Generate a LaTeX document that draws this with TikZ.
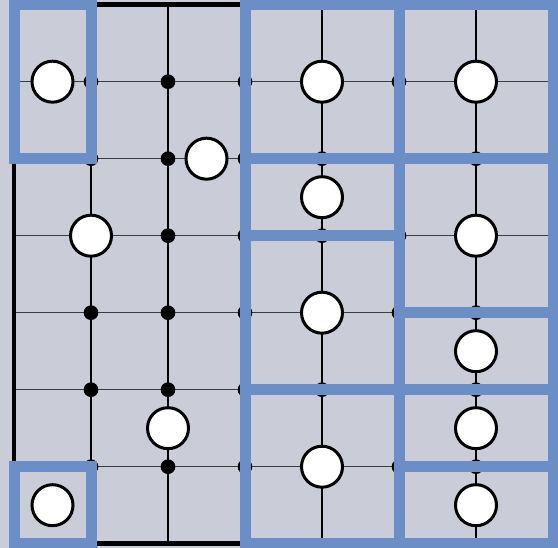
\documentclass[tikz,border=0pt]{standalone}
\definecolor{bg}{RGB}{202,205,216}
\definecolor{bluebox}{RGB}{108,142,198}
\definecolor{hline}{RGB}{60,60,64}
\begin{document}
\begin{tikzpicture}[x=77pt,y=77pt,
  vgridline/.style={black, line width=1.1pt},
  hgridline/.style={hline, line width=1.4pt},
  frame/.style={black, line width=4.7pt},
  dotnode/.style={circle, fill=black, inner sep=0pt, minimum size=14.7pt},
  stone/.style={circle, draw=black, fill=white, line width=3pt, inner sep=0pt, minimum size=41pt},
  region/.style={draw=bluebox, line width=11pt}]
\fill[bg] (-14pt,-4.3pt) rectangle (544pt,543.7pt);
\useasboundingbox (-14pt,-4.3pt) rectangle (544pt,543.7pt);
% grid
\foreach \k in {1,...,6} {
  \draw[hgridline] (0,\k) -- (7,\k);
}
\foreach \k in {1,...,6} {
  \draw[vgridline] (\k,0) -- (\k,7);
}
\draw[frame] (0,0) rectangle (7,7);
% dots
\foreach \i/\j in {1/6,2/6,3/6,5/6,
                   1/5,2/5,3/5,4/5,5/5,6/5,
                   2/4,3/4,4/4,5/4,
                   1/3,2/3,3/3,5/3,6/3,
                   1/2,2/2,3/2,4/2,5/2,6/2,
                   1/1,2/1,3/1,5/1,6/1}
  \node[dotnode] (d\i\j) at (\i,\j) {};
% stones
\node[stone] (c1)  at (0.5,6) {};
\node[stone] (c2)  at (4,6) {};
\node[stone] (c3)  at (6,6) {};
\node[stone] (c4)  at (2.5,5) {};
\node[stone] (c5)  at (4,4.5) {};
\node[stone] (c6)  at (1,4) {};
\node[stone] (c7)  at (6,4) {};
\node[stone] (c8)  at (4,3) {};
\node[stone] (c9)  at (6,2.5) {};
\node[stone] (c10) at (2,1.5) {};
\node[stone] (c11) at (6,1.5) {};
\node[stone] (c12) at (4,1) {};
\node[stone] (c13) at (0.5,0.5) {};
\node[stone] (c14) at (6,0.5) {};
% regions
\draw[region] (0,5) rectangle (1,7);
\draw[region] (0,0) rectangle (1,1);
\draw[region] (3,5) rectangle (5,7);
\draw[region] (3,4) rectangle (5,5);
\draw[region] (3,2) rectangle (5,4);
\draw[region] (3,0) rectangle (5,2);
\draw[region] (5,5) rectangle (7,7);
\draw[region] (5,3) rectangle (7,5);
\draw[region] (5,2) rectangle (7,3);
\draw[region] (5,1) rectangle (7,2);
\draw[region] (5,0) rectangle (7,1);
\end{tikzpicture}
\end{document}
